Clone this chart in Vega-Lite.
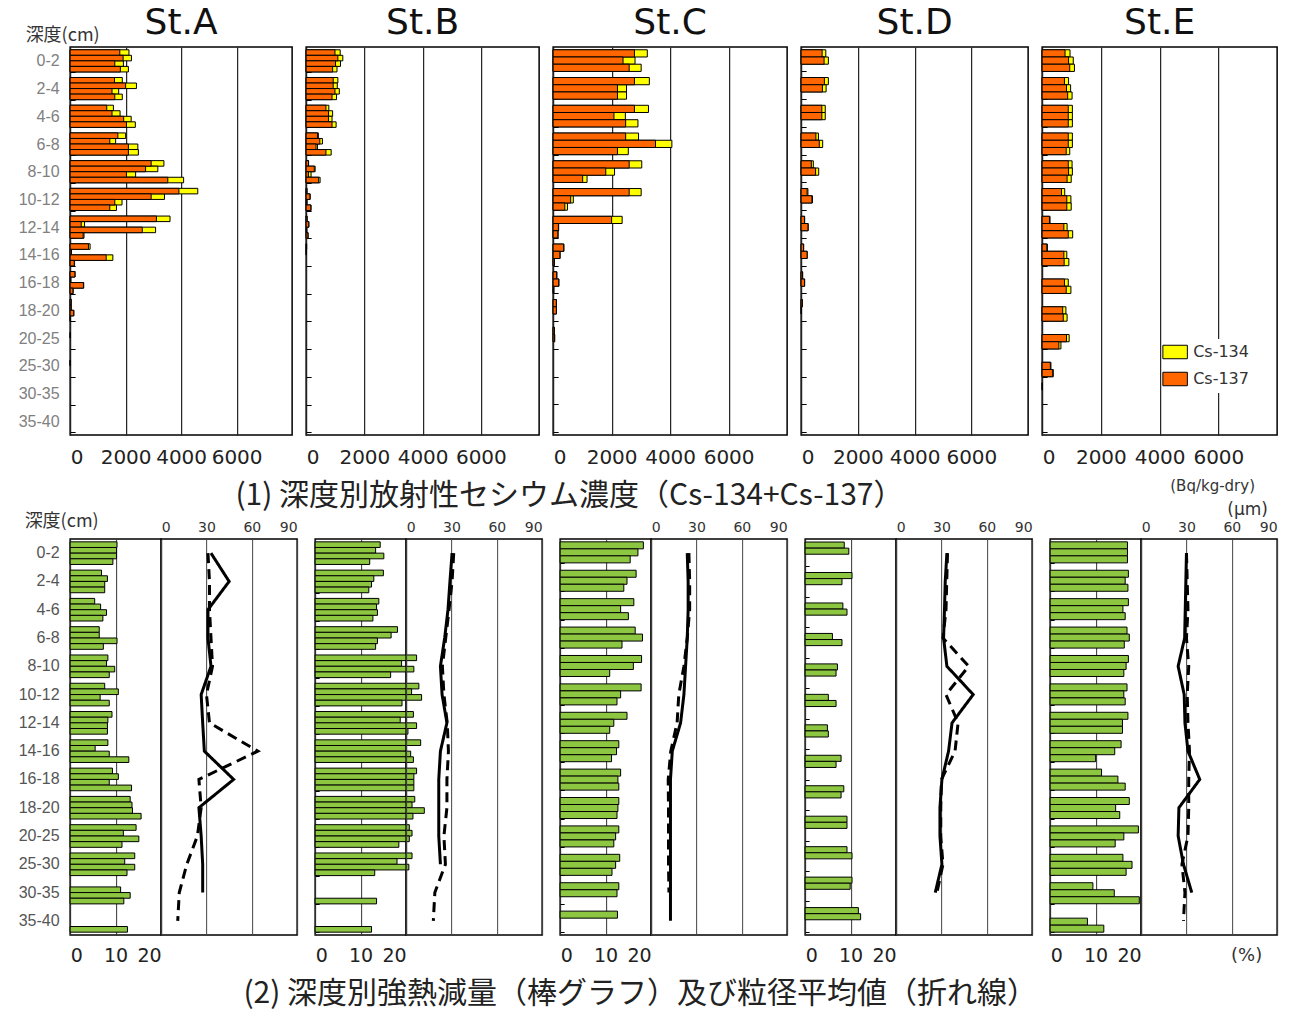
{
"$schema": "https://vega.github.io/schema/vega-lite/v6.json",
"padding": {"left": 17, "top": 4, "right": 5, "bottom": 0},
"background": "white",
"config": {"view": {"stroke": "#000", "strokeWidth": 1.5}, "axis": {"labelFont": "DejaVu Sans", "labelOverlap": false}},
"datasets": {
"cs": [
{"s":"A","d":"0-2","k":1,"c":1790,"t":2120},{"s":"A","d":"0-2","k":2,"c":1910,"t":2210},{"s":"A","d":"0-2","k":3,"c":1610,"t":1920},{"s":"A","d":"0-2","k":4,"c":1810,"t":2100},
{"s":"A","d":"2-4","k":1,"c":1600,"t":1880},{"s":"A","d":"2-4","k":2,"c":2000,"t":2390},{"s":"A","d":"2-4","k":3,"c":1510,"t":1750},{"s":"A","d":"2-4","k":4,"c":1610,"t":1880},
{"s":"A","d":"4-6","k":1,"c":1320,"t":1560},{"s":"A","d":"4-6","k":2,"c":1510,"t":1800},{"s":"A","d":"4-6","k":3,"c":1930,"t":2200},{"s":"A","d":"4-6","k":4,"c":2030,"t":2350},
{"s":"A","d":"6-8","k":1,"c":1720,"t":2000},{"s":"A","d":"6-8","k":2,"c":1430,"t":1640},{"s":"A","d":"6-8","k":3,"c":2100,"t":2440},{"s":"A","d":"6-8","k":4,"c":2100,"t":2460},
{"s":"A","d":"8-10","k":1,"c":2920,"t":3380},{"s":"A","d":"8-10","k":2,"c":2720,"t":3160},{"s":"A","d":"8-10","k":3,"c":2030,"t":2360},{"s":"A","d":"8-10","k":4,"c":3520,"t":4090},
{"s":"A","d":"10-12","k":1,"c":3920,"t":4600},{"s":"A","d":"10-12","k":2,"c":2920,"t":3400},{"s":"A","d":"10-12","k":3,"c":1610,"t":1870},{"s":"A","d":"10-12","k":4,"c":1430,"t":1670},
{"s":"A","d":"12-14","k":1,"c":3110,"t":3600},{"s":"A","d":"12-14","k":2,"c":400,"t":520},{"s":"A","d":"12-14","k":3,"c":2600,"t":3080},{"s":"A","d":"12-14","k":4,"c":470,"t":500},
{"s":"A","d":"14-16","k":1,"c":660,"t":720},{"s":"A","d":"14-16","k":2,"c":40,"t":50},{"s":"A","d":"14-16","k":3,"c":1300,"t":1540},{"s":"A","d":"14-16","k":4,"c":150,"t":160},
{"s":"A","d":"16-18","k":1,"c":170,"t":180},{"s":"A","d":"16-18","k":2,"c":20,"t":25},{"s":"A","d":"16-18","k":3,"c":480,"t":490},{"s":"A","d":"16-18","k":4,"c":100,"t":110},
{"s":"A","d":"18-20","k":1,"c":35,"t":40},{"s":"A","d":"18-20","k":2,"c":35,"t":40},{"s":"A","d":"18-20","k":3,"c":130,"t":135},{"s":"A","d":"18-20","k":4,"c":10,"t":12},
{"s":"A","d":"20-25","k":2,"c":10,"t":12},{"s":"A","d":"25-30","k":2,"c":8,"t":10},
{"s":"B","d":"0-2","k":1,"c":990,"t":1170},{"s":"B","d":"0-2","k":2,"c":1090,"t":1260},{"s":"B","d":"0-2","k":3,"c":1010,"t":1180},{"s":"B","d":"0-2","k":4,"c":910,"t":1060},
{"s":"B","d":"2-4","k":1,"c":930,"t":1090},{"s":"B","d":"2-4","k":2,"c":930,"t":1070},{"s":"B","d":"2-4","k":3,"c":990,"t":1140},{"s":"B","d":"2-4","k":4,"c":890,"t":1045},
{"s":"B","d":"4-6","k":1,"c":680,"t":780},{"s":"B","d":"4-6","k":2,"c":770,"t":910},{"s":"B","d":"4-6","k":3,"c":770,"t":890},{"s":"B","d":"4-6","k":4,"c":890,"t":1030},
{"s":"B","d":"6-8","k":1,"c":390,"t":420},{"s":"B","d":"6-8","k":2,"c":470,"t":560},{"s":"B","d":"6-8","k":3,"c":340,"t":390},{"s":"B","d":"6-8","k":4,"c":680,"t":860},
{"s":"B","d":"8-10","k":1,"c":80,"t":85},{"s":"B","d":"8-10","k":2,"c":280,"t":310},{"s":"B","d":"8-10","k":3,"c":80,"t":170},{"s":"B","d":"8-10","k":4,"c":430,"t":480},
{"s":"B","d":"10-12","k":1,"c":25,"t":30},{"s":"B","d":"10-12","k":2,"c":130,"t":140},{"s":"B","d":"10-12","k":3,"c":25,"t":30},{"s":"B","d":"10-12","k":4,"c":160,"t":170},
{"s":"B","d":"12-14","k":1,"c":30,"t":35},{"s":"B","d":"12-14","k":2,"c":90,"t":95},{"s":"B","d":"12-14","k":3,"c":20,"t":25},{"s":"B","d":"12-14","k":4,"c":60,"t":70},
{"s":"B","d":"14-16","k":1,"c":15,"t":18},{"s":"B","d":"14-16","k":2,"c":10,"t":12},
{"s":"C","d":"0-2","k":1,"c":2780,"t":3220},{"s":"C","d":"0-2","k":2,"c":2390,"t":2800},{"s":"C","d":"0-2","k":3,"c":2600,"t":3010},
{"s":"C","d":"2-4","k":1,"c":2780,"t":3290},{"s":"C","d":"2-4","k":2,"c":2200,"t":2510},{"s":"C","d":"2-4","k":3,"c":2200,"t":2510},
{"s":"C","d":"4-6","k":1,"c":2780,"t":3260},{"s":"C","d":"4-6","k":2,"c":2080,"t":2470},{"s":"C","d":"4-6","k":3,"c":2480,"t":2900},
{"s":"C","d":"6-8","k":1,"c":2480,"t":2920},{"s":"C","d":"6-8","k":2,"c":3500,"t":4060},{"s":"C","d":"6-8","k":3,"c":2200,"t":2570},
{"s":"C","d":"8-10","k":1,"c":2600,"t":3030},{"s":"C","d":"8-10","k":2,"c":1800,"t":2100},{"s":"C","d":"8-10","k":3,"c":1010,"t":1160},
{"s":"C","d":"10-12","k":1,"c":2600,"t":3010},{"s":"C","d":"10-12","k":2,"c":600,"t":690},{"s":"C","d":"10-12","k":3,"c":400,"t":490},
{"s":"C","d":"12-14","k":1,"c":2000,"t":2360},{"s":"C","d":"12-14","k":2,"c":180,"t":190},{"s":"C","d":"12-14","k":3,"c":160,"t":170},
{"s":"C","d":"14-16","k":1,"c":360,"t":370},{"s":"C","d":"14-16","k":2,"c":230,"t":240},{"s":"C","d":"14-16","k":3,"c":40,"t":45},
{"s":"C","d":"16-18","k":1,"c":120,"t":130},{"s":"C","d":"16-18","k":2,"c":190,"t":200},{"s":"C","d":"16-18","k":3,"c":20,"t":25},
{"s":"C","d":"18-20","k":1,"c":110,"t":115},{"s":"C","d":"18-20","k":2,"c":110,"t":115},
{"s":"C","d":"20-25","k":1,"c":40,"t":45},{"s":"C","d":"20-25","k":2,"c":50,"t":55},
{"s":"D","d":"0-2","k":1,"c":740,"t":870},{"s":"D","d":"0-2","k":2,"c":810,"t":960},
{"s":"D","d":"2-4","k":1,"c":820,"t":960},{"s":"D","d":"2-4","k":2,"c":750,"t":880},
{"s":"D","d":"4-6","k":1,"c":730,"t":850},{"s":"D","d":"4-6","k":2,"c":730,"t":850},
{"s":"D","d":"6-8","k":1,"c":520,"t":610},{"s":"D","d":"6-8","k":2,"c":640,"t":760},
{"s":"D","d":"8-10","k":1,"c":360,"t":430},{"s":"D","d":"8-10","k":2,"c":510,"t":620},
{"s":"D","d":"10-12","k":1,"c":210,"t":240},{"s":"D","d":"10-12","k":2,"c":380,"t":400},
{"s":"D","d":"12-14","k":1,"c":120,"t":125},{"s":"D","d":"12-14","k":2,"c":240,"t":250},
{"s":"D","d":"14-16","k":1,"c":85,"t":90},{"s":"D","d":"14-16","k":2,"c":210,"t":215},
{"s":"D","d":"16-18","k":1,"c":50,"t":55},{"s":"D","d":"16-18","k":2,"c":120,"t":125},
{"s":"D","d":"18-20","k":1,"c":40,"t":45},{"s":"D","d":"18-20","k":2,"c":10,"t":12},
{"s":"E","d":"0-2","k":1,"c":780,"t":950},{"s":"E","d":"0-2","k":2,"c":900,"t":1060},{"s":"E","d":"0-2","k":3,"c":940,"t":1100},
{"s":"E","d":"2-4","k":1,"c":760,"t":900},{"s":"E","d":"2-4","k":2,"c":830,"t":970},{"s":"E","d":"2-4","k":3,"c":870,"t":1020},
{"s":"E","d":"4-6","k":1,"c":890,"t":1030},{"s":"E","d":"4-6","k":2,"c":890,"t":1030},{"s":"E","d":"4-6","k":3,"c":890,"t":1030},
{"s":"E","d":"6-8","k":1,"c":890,"t":1030},{"s":"E","d":"6-8","k":2,"c":890,"t":1030},{"s":"E","d":"6-8","k":3,"c":820,"t":940},
{"s":"E","d":"8-10","k":1,"c":890,"t":1020},{"s":"E","d":"8-10","k":2,"c":900,"t":1030},{"s":"E","d":"8-10","k":3,"c":850,"t":990},
{"s":"E","d":"10-12","k":1,"c":660,"t":770},{"s":"E","d":"10-12","k":2,"c":840,"t":980},{"s":"E","d":"10-12","k":3,"c":840,"t":990},
{"s":"E","d":"12-14","k":1,"c":250,"t":270},{"s":"E","d":"12-14","k":2,"c":740,"t":850},{"s":"E","d":"12-14","k":3,"c":890,"t":1040},
{"s":"E","d":"14-16","k":1,"c":160,"t":180},{"s":"E","d":"14-16","k":2,"c":740,"t":840},{"s":"E","d":"14-16","k":3,"c":750,"t":910},
{"s":"E","d":"16-18","k":2,"c":760,"t":890},{"s":"E","d":"16-18","k":3,"c":820,"t":980},
{"s":"E","d":"18-20","k":2,"c":700,"t":810},{"s":"E","d":"18-20","k":3,"c":720,"t":850},
{"s":"E","d":"20-25","k":2,"c":830,"t":920},{"s":"E","d":"20-25","k":3,"c":570,"t":640},
{"s":"E","d":"25-30","k":2,"c":280,"t":300},{"s":"E","d":"25-30","k":3,"c":360,"t":380},
{"s":"E","d":"30-35","k":1,"c":10,"t":12}
],
"loi": [
{"s":"A","d":"0-2","k":1,"v":10.3},{"s":"A","d":"0-2","k":2,"v":10.2},{"s":"A","d":"0-2","k":3,"v":10.2},{"s":"A","d":"0-2","k":4,"v":9.4},
{"s":"A","d":"2-4","k":1,"v":6.9},{"s":"A","d":"2-4","k":2,"v":8.2},{"s":"A","d":"2-4","k":3,"v":7.6},{"s":"A","d":"2-4","k":4,"v":7.6},
{"s":"A","d":"4-6","k":1,"v":5.4},{"s":"A","d":"4-6","k":2,"v":6.7},{"s":"A","d":"4-6","k":3,"v":8.0},{"s":"A","d":"4-6","k":4,"v":7.2},
{"s":"A","d":"6-8","k":1,"v":6.4},{"s":"A","d":"6-8","k":2,"v":6.4},{"s":"A","d":"6-8","k":3,"v":10.3},{"s":"A","d":"6-8","k":4,"v":7.3},
{"s":"A","d":"8-10","k":1,"v":8.3},{"s":"A","d":"8-10","k":2,"v":8.0},{"s":"A","d":"8-10","k":3,"v":9.8},{"s":"A","d":"8-10","k":4,"v":8.6},
{"s":"A","d":"10-12","k":1,"v":7.6},{"s":"A","d":"10-12","k":2,"v":10.6},{"s":"A","d":"10-12","k":3,"v":6.6},{"s":"A","d":"10-12","k":4,"v":8.6},
{"s":"A","d":"12-14","k":1,"v":9.2},{"s":"A","d":"12-14","k":2,"v":8.3},{"s":"A","d":"12-14","k":3,"v":8.2},{"s":"A","d":"12-14","k":4,"v":8.2},
{"s":"A","d":"14-16","k":1,"v":8.3},{"s":"A","d":"14-16","k":2,"v":5.5},{"s":"A","d":"14-16","k":3,"v":8.6},{"s":"A","d":"14-16","k":4,"v":12.9},
{"s":"A","d":"16-18","k":1,"v":9.3},{"s":"A","d":"16-18","k":2,"v":10.6},{"s":"A","d":"16-18","k":3,"v":8.6},{"s":"A","d":"16-18","k":4,"v":13.5},
{"s":"A","d":"18-20","k":1,"v":13.2},{"s":"A","d":"18-20","k":2,"v":13.6},{"s":"A","d":"18-20","k":3,"v":13.7},{"s":"A","d":"18-20","k":4,"v":15.6},
{"s":"A","d":"20-25","k":1,"v":14.5},{"s":"A","d":"20-25","k":2,"v":11.7},{"s":"A","d":"20-25","k":3,"v":15.1},{"s":"A","d":"20-25","k":4,"v":11.4},
{"s":"A","d":"25-30","k":1,"v":14.2},{"s":"A","d":"25-30","k":2,"v":12.0},{"s":"A","d":"25-30","k":3,"v":14.2},{"s":"A","d":"25-30","k":4,"v":12.5},
{"s":"A","d":"30-35","k":2,"v":11.1},{"s":"A","d":"30-35","k":3,"v":13.2},{"s":"A","d":"30-35","k":4,"v":11.8},
{"s":"A","d":"35-40","k":4,"v":12.6},
{"s":"B","d":"0-2","k":1,"v":14.3},{"s":"B","d":"0-2","k":2,"v":13.3},{"s":"B","d":"0-2","k":3,"v":15.1},{"s":"B","d":"0-2","k":4,"v":12.0},
{"s":"B","d":"2-4","k":1,"v":15.0},{"s":"B","d":"2-4","k":2,"v":12.9},{"s":"B","d":"2-4","k":3,"v":12.4},{"s":"B","d":"2-4","k":4,"v":11.8},
{"s":"B","d":"4-6","k":1,"v":14.0},{"s":"B","d":"4-6","k":2,"v":13.5},{"s":"B","d":"4-6","k":3,"v":13.7},{"s":"B","d":"4-6","k":4,"v":12.7},
{"s":"B","d":"6-8","k":1,"v":18.1},{"s":"B","d":"6-8","k":2,"v":16.7},{"s":"B","d":"6-8","k":3,"v":13.7},{"s":"B","d":"6-8","k":4,"v":13.3},
{"s":"B","d":"8-10","k":1,"v":22.3},{"s":"B","d":"8-10","k":2,"v":19.0},{"s":"B","d":"8-10","k":3,"v":21.7},{"s":"B","d":"8-10","k":4,"v":16.6},
{"s":"B","d":"10-12","k":1,"v":22.8},{"s":"B","d":"10-12","k":2,"v":21.2},{"s":"B","d":"10-12","k":3,"v":23.4},{"s":"B","d":"10-12","k":4,"v":19.1},
{"s":"B","d":"12-14","k":1,"v":21.6},{"s":"B","d":"12-14","k":2,"v":18.7},{"s":"B","d":"12-14","k":3,"v":22.3},{"s":"B","d":"12-14","k":4,"v":20.4},
{"s":"B","d":"14-16","k":1,"v":23.2},{"s":"B","d":"14-16","k":2,"v":20.0},{"s":"B","d":"14-16","k":3,"v":21.0},{"s":"B","d":"14-16","k":4,"v":21.6},
{"s":"B","d":"16-18","k":1,"v":22.3},{"s":"B","d":"16-18","k":2,"v":21.7},{"s":"B","d":"16-18","k":3,"v":21.7},{"s":"B","d":"16-18","k":4,"v":21.7},
{"s":"B","d":"18-20","k":1,"v":21.9},{"s":"B","d":"18-20","k":2,"v":21.3},{"s":"B","d":"18-20","k":3,"v":24.0},{"s":"B","d":"18-20","k":4,"v":21.5},
{"s":"B","d":"20-25","k":1,"v":20.7},{"s":"B","d":"20-25","k":2,"v":21.3},{"s":"B","d":"20-25","k":3,"v":20.7},{"s":"B","d":"20-25","k":4,"v":18.4},
{"s":"B","d":"25-30","k":1,"v":21.3},{"s":"B","d":"25-30","k":2,"v":18.0},{"s":"B","d":"25-30","k":3,"v":20.6},{"s":"B","d":"25-30","k":4,"v":13.1},
{"s":"B","d":"30-35","k":4,"v":13.5},{"s":"B","d":"35-40","k":4,"v":12.4},
{"s":"C","d":"0-2","k":1,"v":18.3},{"s":"C","d":"0-2","k":2,"v":17.1},{"s":"C","d":"0-2","k":3,"v":15.4},
{"s":"C","d":"2-4","k":1,"v":16.7},{"s":"C","d":"2-4","k":2,"v":14.7},{"s":"C","d":"2-4","k":3,"v":14.0},
{"s":"C","d":"4-6","k":1,"v":16.2},{"s":"C","d":"4-6","k":2,"v":13.3},{"s":"C","d":"4-6","k":3,"v":15.0},
{"s":"C","d":"6-8","k":1,"v":16.5},{"s":"C","d":"6-8","k":2,"v":18.1},{"s":"C","d":"6-8","k":3,"v":13.6},
{"s":"C","d":"8-10","k":1,"v":17.9},{"s":"C","d":"8-10","k":2,"v":16.1},{"s":"C","d":"8-10","k":3,"v":10.9},
{"s":"C","d":"10-12","k":1,"v":17.8},{"s":"C","d":"10-12","k":2,"v":13.3},{"s":"C","d":"10-12","k":3,"v":12.5},
{"s":"C","d":"12-14","k":1,"v":14.7},{"s":"C","d":"12-14","k":2,"v":11.8},{"s":"C","d":"12-14","k":3,"v":10.9},
{"s":"C","d":"14-16","k":1,"v":12.9},{"s":"C","d":"14-16","k":2,"v":12.4},{"s":"C","d":"14-16","k":3,"v":11.3},
{"s":"C","d":"16-18","k":1,"v":13.3},{"s":"C","d":"16-18","k":2,"v":12.7},{"s":"C","d":"16-18","k":3,"v":12.9},
{"s":"C","d":"18-20","k":1,"v":12.9},{"s":"C","d":"18-20","k":2,"v":12.7},{"s":"C","d":"18-20","k":3,"v":12.5},
{"s":"C","d":"20-25","k":1,"v":12.9},{"s":"C","d":"20-25","k":2,"v":12.2},{"s":"C","d":"20-25","k":3,"v":11.8},
{"s":"C","d":"25-30","k":1,"v":13.1},{"s":"C","d":"25-30","k":2,"v":12.2},{"s":"C","d":"25-30","k":3,"v":11.4},
{"s":"C","d":"30-35","k":1,"v":12.9},{"s":"C","d":"30-35","k":2,"v":12.5},
{"s":"C","d":"35-40","k":1,"v":12.6},
{"s":"D","d":"0-2","k":1,"v":8.6},{"s":"D","d":"0-2","k":2,"v":9.6},
{"s":"D","d":"2-4","k":1,"v":10.3},{"s":"D","d":"2-4","k":2,"v":8.1},
{"s":"D","d":"4-6","k":1,"v":8.3},{"s":"D","d":"4-6","k":2,"v":9.2},
{"s":"D","d":"6-8","k":1,"v":6.0},{"s":"D","d":"6-8","k":2,"v":8.1},
{"s":"D","d":"8-10","k":1,"v":7.1},{"s":"D","d":"8-10","k":2,"v":6.8},
{"s":"D","d":"10-12","k":1,"v":5.1},{"s":"D","d":"10-12","k":2,"v":6.8},
{"s":"D","d":"12-14","k":1,"v":4.9},{"s":"D","d":"12-14","k":2,"v":5.1},
{"s":"D","d":"14-16","k":1,"v":7.9},{"s":"D","d":"14-16","k":2,"v":6.8},
{"s":"D","d":"16-18","k":1,"v":8.5},{"s":"D","d":"16-18","k":2,"v":7.9},
{"s":"D","d":"18-20","k":1,"v":9.2},{"s":"D","d":"18-20","k":2,"v":9.2},
{"s":"D","d":"20-25","k":1,"v":9.2},{"s":"D","d":"20-25","k":2,"v":10.3},
{"s":"D","d":"25-30","k":1,"v":10.3},{"s":"D","d":"25-30","k":2,"v":9.9},
{"s":"D","d":"30-35","k":1,"v":11.7},{"s":"D","d":"30-35","k":2,"v":12.2},
{"s":"E","d":"0-2","k":1,"v":17.0},{"s":"E","d":"0-2","k":2,"v":17.0},{"s":"E","d":"0-2","k":3,"v":17.0},
{"s":"E","d":"2-4","k":1,"v":17.2},{"s":"E","d":"2-4","k":2,"v":16.5},{"s":"E","d":"2-4","k":3,"v":17.1},
{"s":"E","d":"4-6","k":1,"v":17.2},{"s":"E","d":"4-6","k":2,"v":16.0},{"s":"E","d":"4-6","k":3,"v":16.5},
{"s":"E","d":"6-8","k":1,"v":16.9},{"s":"E","d":"6-8","k":2,"v":17.4},{"s":"E","d":"6-8","k":3,"v":16.3},
{"s":"E","d":"8-10","k":1,"v":17.2},{"s":"E","d":"8-10","k":2,"v":16.7},{"s":"E","d":"8-10","k":3,"v":16.2},
{"s":"E","d":"10-12","k":1,"v":16.9},{"s":"E","d":"10-12","k":2,"v":16.2},{"s":"E","d":"10-12","k":3,"v":16.5},
{"s":"E","d":"12-14","k":1,"v":17.1},{"s":"E","d":"12-14","k":2,"v":15.9},{"s":"E","d":"12-14","k":3,"v":15.9},
{"s":"E","d":"14-16","k":1,"v":15.6},{"s":"E","d":"14-16","k":2,"v":14.2},{"s":"E","d":"14-16","k":3,"v":10.0},
{"s":"E","d":"16-18","k":1,"v":11.3},{"s":"E","d":"16-18","k":2,"v":14.9},{"s":"E","d":"16-18","k":3,"v":16.5},
{"s":"E","d":"18-20","k":1,"v":17.4},{"s":"E","d":"18-20","k":2,"v":14.4},{"s":"E","d":"18-20","k":3,"v":15.3},
{"s":"E","d":"20-25","k":1,"v":19.4},{"s":"E","d":"20-25","k":2,"v":16.2},{"s":"E","d":"20-25","k":3,"v":14.3},
{"s":"E","d":"25-30","k":1,"v":16.0},{"s":"E","d":"25-30","k":2,"v":18.0},{"s":"E","d":"25-30","k":3,"v":16.7},
{"s":"E","d":"30-35","k":1,"v":9.4},{"s":"E","d":"30-35","k":2,"v":14.1},{"s":"E","d":"30-35","k":3,"v":19.6},
{"s":"E","d":"35-40","k":2,"v":8.2},{"s":"E","d":"35-40","k":3,"v":11.8}
],
"gs": [
{"s":"A","t":"s","d":"0-2","v":33},{"s":"A","t":"s","d":"2-4","v":45},{"s":"A","t":"s","d":"4-6","v":31},{"s":"A","t":"s","d":"6-8","v":31},{"s":"A","t":"s","d":"8-10","v":33},{"s":"A","t":"s","d":"10-12","v":26.5},{"s":"A","t":"s","d":"12-14","v":27.5},{"s":"A","t":"s","d":"14-16","v":28.6},{"s":"A","t":"s","d":"16-18","v":48},{"s":"A","t":"s","d":"18-20","v":25},{"s":"A","t":"s","d":"20-25","v":26.5},{"s":"A","t":"s","d":"25-30","v":27.5},{"s":"A","t":"s","d":"30-35","v":27.5},
{"s":"A","t":"d","d":"0-2","v":31},{"s":"A","t":"d","d":"2-4","v":32},{"s":"A","t":"d","d":"4-6","v":32},{"s":"A","t":"d","d":"6-8","v":33},{"s":"A","t":"d","d":"8-10","v":34},{"s":"A","t":"d","d":"10-12","v":30},{"s":"A","t":"d","d":"12-14","v":32},{"s":"A","t":"d","d":"14-16","v":64},{"s":"A","t":"d","d":"16-18","v":25},{"s":"A","t":"d","d":"18-20","v":26.5},{"s":"A","t":"d","d":"20-25","v":24},{"s":"A","t":"d","d":"25-30","v":17},{"s":"A","t":"d","d":"30-35","v":12},{"s":"A","t":"d","d":"35-40","v":11},
{"s":"B","t":"s","d":"0-2","v":30.4},{"s":"B","t":"s","d":"2-4","v":29},{"s":"B","t":"s","d":"4-6","v":27.7},{"s":"B","t":"s","d":"6-8","v":25.5},{"s":"B","t":"s","d":"8-10","v":22.7},{"s":"B","t":"s","d":"10-12","v":23.8},{"s":"B","t":"s","d":"12-14","v":27},{"s":"B","t":"s","d":"14-16","v":22.7},{"s":"B","t":"s","d":"16-18","v":21.6},{"s":"B","t":"s","d":"18-20","v":21.6},{"s":"B","t":"s","d":"20-25","v":21.6},{"s":"B","t":"s","d":"25-30","v":22.7},
{"s":"B","t":"d","d":"0-2","v":31.5},{"s":"B","t":"d","d":"2-4","v":30.4},{"s":"B","t":"d","d":"4-6","v":28.4},{"s":"B","t":"d","d":"6-8","v":26.2},{"s":"B","t":"d","d":"8-10","v":24},{"s":"B","t":"d","d":"10-12","v":25},{"s":"B","t":"d","d":"12-14","v":27.2},{"s":"B","t":"d","d":"14-16","v":28},{"s":"B","t":"d","d":"16-18","v":27},{"s":"B","t":"d","d":"18-20","v":27},{"s":"B","t":"d","d":"20-25","v":25},{"s":"B","t":"d","d":"25-30","v":26},{"s":"B","t":"d","d":"30-35","v":19},{"s":"B","t":"d","d":"35-40","v":18},
{"s":"C","t":"s","d":"0-2","v":23.9},{"s":"C","t":"s","d":"2-4","v":24.5},{"s":"C","t":"s","d":"4-6","v":24.5},{"s":"C","t":"s","d":"6-8","v":23.9},{"s":"C","t":"s","d":"8-10","v":22.8},{"s":"C","t":"s","d":"10-12","v":21.7},{"s":"C","t":"s","d":"12-14","v":19.5},{"s":"C","t":"s","d":"14-16","v":14},{"s":"C","t":"s","d":"16-18","v":12.8},{"s":"C","t":"s","d":"18-20","v":12.8},{"s":"C","t":"s","d":"20-25","v":12.8},{"s":"C","t":"s","d":"25-30","v":12.8},{"s":"C","t":"s","d":"30-35","v":12.8},{"s":"C","t":"s","d":"35-40","v":12.8},
{"s":"C","t":"d","d":"0-2","v":25},{"s":"C","t":"d","d":"2-4","v":25.5},{"s":"C","t":"d","d":"4-6","v":25.5},{"s":"C","t":"d","d":"6-8","v":23.9},{"s":"C","t":"d","d":"8-10","v":21.7},{"s":"C","t":"d","d":"10-12","v":18.3},{"s":"C","t":"d","d":"12-14","v":17.2},{"s":"C","t":"d","d":"14-16","v":13},{"s":"C","t":"d","d":"16-18","v":11.3},{"s":"C","t":"d","d":"18-20","v":11.5},{"s":"C","t":"d","d":"20-25","v":11.5},{"s":"C","t":"d","d":"25-30","v":11.5},{"s":"C","t":"d","d":"30-35","v":11.8},
{"s":"D","t":"s","d":"0-2","v":33.6},{"s":"D","t":"s","d":"2-4","v":32.5},{"s":"D","t":"s","d":"4-6","v":32},{"s":"D","t":"s","d":"6-8","v":31.4},{"s":"D","t":"s","d":"8-10","v":33.6},{"s":"D","t":"s","d":"10-12","v":51},{"s":"D","t":"s","d":"12-14","v":37},{"s":"D","t":"s","d":"14-16","v":34.7},{"s":"D","t":"s","d":"16-18","v":30.3},{"s":"D","t":"s","d":"18-20","v":29},{"s":"D","t":"s","d":"20-25","v":29},{"s":"D","t":"s","d":"25-30","v":30.3},{"s":"D","t":"s","d":"30-35","v":25.9},
{"s":"D","t":"d","d":"0-2","v":34},{"s":"D","t":"d","d":"2-4","v":33.5},{"s":"D","t":"d","d":"4-6","v":33},{"s":"D","t":"d","d":"6-8","v":31},{"s":"D","t":"d","d":"8-10","v":48},{"s":"D","t":"d","d":"10-12","v":33},{"s":"D","t":"d","d":"12-14","v":41},{"s":"D","t":"d","d":"14-16","v":39},{"s":"D","t":"d","d":"16-18","v":30},{"s":"D","t":"d","d":"18-20","v":29.5},{"s":"D","t":"d","d":"20-25","v":29.5},{"s":"D","t":"d","d":"25-30","v":31},{"s":"D","t":"d","d":"30-35","v":27},
{"s":"E","t":"s","d":"0-2","v":30},{"s":"E","t":"s","d":"2-4","v":29.6},{"s":"E","t":"s","d":"4-6","v":29.2},{"s":"E","t":"s","d":"6-8","v":28.8},{"s":"E","t":"s","d":"8-10","v":24.5},{"s":"E","t":"s","d":"10-12","v":28.5},{"s":"E","t":"s","d":"12-14","v":29},{"s":"E","t":"s","d":"14-16","v":31},{"s":"E","t":"s","d":"16-18","v":38.8},{"s":"E","t":"s","d":"18-20","v":25},{"s":"E","t":"s","d":"20-25","v":24.5},{"s":"E","t":"s","d":"25-30","v":28},{"s":"E","t":"s","d":"30-35","v":33.5},
{"s":"E","t":"d","d":"0-2","v":30},{"s":"E","t":"d","d":"2-4","v":30.5},{"s":"E","t":"d","d":"4-6","v":31},{"s":"E","t":"d","d":"6-8","v":30},{"s":"E","t":"d","d":"8-10","v":31.5},{"s":"E","t":"d","d":"10-12","v":30.5},{"s":"E","t":"d","d":"12-14","v":31},{"s":"E","t":"d","d":"14-16","v":32},{"s":"E","t":"d","d":"16-18","v":31.5},{"s":"E","t":"d","d":"18-20","v":31.5},{"s":"E","t":"d","d":"20-25","v":31},{"s":"E","t":"d","d":"25-30","v":27},{"s":"E","t":"d","d":"30-35","v":29},{"s":"E","t":"d","d":"35-40","v":28}
]
},
"vconcat": [
{
"hconcat": [
{"width": 222, "height": 388, "data": {"name": "cs"}, "transform": [{"filter": "datum.s=='A'"}],
 "title": {"text": "St.A", "fontSize": 36, "font": "DejaVu Sans", "fontWeight": "normal", "color": "#111", "offset": -16, "frame": "group"},
 "encoding": {
  "y": {"field": "d", "type": "nominal", "scale": {"domain": ["0-2","2-4","4-6","6-8","8-10","10-12","12-14","14-16","16-18","18-20","20-25","25-30","30-35","35-40"], "paddingInner": 0.2, "paddingOuter": 0.1},
   "axis": {"title": "深度(cm)", "titleAngle": 0, "titleX": -8, "titleY": -12, "titleAlign": "center", "titleBaseline": "middle", "titleFont": "Noto Sans CJK JP", "titleFontSize": 18, "titleFontWeight": "normal", "titleColor": "#333", "labelFont": "Liberation Sans", "labelFontSize": 16, "labelColor": "#808080", "labelPadding": 16, "tickBand": "extent", "tickSize": -5, "tickColor": "#000", "domain": false}},
  "yOffset": {"field": "k", "type": "nominal", "scale": {"domain": [1,2,3,4]}}
 },
 "layer": [
  {"mark": {"type": "bar", "stroke": "#000", "strokeWidth": 1}, "encoding": {"x": {"field": "t", "type": "quantitative", "scale": {"domain": [0,8000], "nice": false}, "axis": {"values": [0,2000,4000,6000], "format": "d", "title": null, "grid": true, "gridColor": "#222", "gridWidth": 1.2, "ticks": false, "domain": false, "labelFontSize": 20, "labelColor": "#222", "labelPadding": 12}}, "color": {"datum": "Cs-134", "scale": {"domain": ["Cs-134","Cs-137"], "range": ["#FFFF00","#FF6600"]}, "legend": null}}},
  {"mark": {"type": "bar", "stroke": "#000", "strokeWidth": 1}, "encoding": {"x": {"field": "c", "type": "quantitative"}, "color": {"datum": "Cs-137", "legend": null}}}
 ]
},
{"width": 233, "height": 388, "data": {"name": "cs"}, "transform": [{"filter": "datum.s=='B'"}],
 "title": {"text": "St.B", "fontSize": 36, "font": "DejaVu Sans", "fontWeight": "normal", "color": "#111", "offset": 5, "frame": "group"},
 "encoding": {
  "y": {"field": "d", "type": "nominal", "scale": {"domain": ["0-2","2-4","4-6","6-8","8-10","10-12","12-14","14-16","16-18","18-20","20-25","25-30","30-35","35-40"], "paddingInner": 0.2, "paddingOuter": 0.1},
   "axis": {"title": null, "labels": false, "tickBand": "extent", "tickSize": -5, "tickColor": "#000", "domain": false}},
  "yOffset": {"field": "k", "type": "nominal", "scale": {"domain": [1,2,3,4]}}
 },
 "layer": [
  {"mark": {"type": "bar", "stroke": "#000", "strokeWidth": 1}, "encoding": {"x": {"field": "t", "type": "quantitative", "scale": {"domain": [0,8000], "nice": false}, "axis": {"values": [0,2000,4000,6000], "format": "d", "title": null, "grid": true, "gridColor": "#222", "gridWidth": 1.2, "ticks": false, "domain": false, "labelFontSize": 20, "labelColor": "#222", "labelPadding": 12}}, "color": {"datum": "Cs-134", "scale": {"domain": ["Cs-134","Cs-137"], "range": ["#FFFF00","#FF6600"]}, "legend": null}}},
  {"mark": {"type": "bar", "stroke": "#000", "strokeWidth": 1}, "encoding": {"x": {"field": "c", "type": "quantitative"}, "color": {"datum": "Cs-137", "legend": null}}}
 ]
},
{"width": 234, "height": 388, "data": {"name": "cs"}, "transform": [{"filter": "datum.s=='C'"}],
 "title": {"text": "St.C", "fontSize": 36, "font": "DejaVu Sans", "fontWeight": "normal", "color": "#111", "offset": 5, "frame": "group"},
 "encoding": {
  "y": {"field": "d", "type": "nominal", "scale": {"domain": ["0-2","2-4","4-6","6-8","8-10","10-12","12-14","14-16","16-18","18-20","20-25","25-30","30-35","35-40"], "paddingInner": 0.22, "paddingOuter": 0.1},
   "axis": {"title": null, "labels": false, "tickBand": "extent", "tickSize": -5, "tickColor": "#000", "domain": false}},
  "yOffset": {"field": "k", "type": "nominal", "scale": {"domain": [1,2,3]}}
 },
 "layer": [
  {"mark": {"type": "bar", "stroke": "#000", "strokeWidth": 1}, "encoding": {"x": {"field": "t", "type": "quantitative", "scale": {"domain": [0,8000], "nice": false}, "axis": {"values": [0,2000,4000,6000], "format": "d", "title": null, "grid": true, "gridColor": "#222", "gridWidth": 1.2, "ticks": false, "domain": false, "labelFontSize": 20, "labelColor": "#222", "labelPadding": 12}}, "color": {"datum": "Cs-134", "scale": {"domain": ["Cs-134","Cs-137"], "range": ["#FFFF00","#FF6600"]}, "legend": null}}},
  {"mark": {"type": "bar", "stroke": "#000", "strokeWidth": 1}, "encoding": {"x": {"field": "c", "type": "quantitative"}, "color": {"datum": "Cs-137", "legend": null}}}
 ]
},
{"width": 227, "height": 388, "data": {"name": "cs"}, "transform": [{"filter": "datum.s=='D'"}],
 "title": {"text": "St.D", "fontSize": 36, "font": "DejaVu Sans", "fontWeight": "normal", "color": "#111", "offset": 5, "frame": "group"},
 "encoding": {
  "y": {"field": "d", "type": "nominal", "scale": {"domain": ["0-2","2-4","4-6","6-8","8-10","10-12","12-14","14-16","16-18","18-20","20-25","25-30","30-35","35-40"], "paddingInner": 0.22, "paddingOuter": 0.1},
   "axis": {"title": null, "labels": false, "tickBand": "extent", "tickSize": -5, "tickColor": "#000", "domain": false}},
  "yOffset": {"field": "k", "type": "nominal", "scale": {"domain": [1,2,3]}}
 },
 "layer": [
  {"mark": {"type": "bar", "stroke": "#000", "strokeWidth": 1}, "encoding": {"x": {"field": "t", "type": "quantitative", "scale": {"domain": [0,8000], "nice": false}, "axis": {"values": [0,2000,4000,6000], "format": "d", "title": null, "grid": true, "gridColor": "#222", "gridWidth": 1.2, "ticks": false, "domain": false, "labelFontSize": 20, "labelColor": "#222", "labelPadding": 12}}, "color": {"datum": "Cs-134", "scale": {"domain": ["Cs-134","Cs-137"], "range": ["#FFFF00","#FF6600"]}, "legend": null}}},
  {"mark": {"type": "bar", "stroke": "#000", "strokeWidth": 1}, "encoding": {"x": {"field": "c", "type": "quantitative"}, "color": {"datum": "Cs-137", "legend": null}}}
 ]
},
{"width": 235, "height": 388, "data": {"name": "cs"}, "transform": [{"filter": "datum.s=='E'"}],
 "title": {"text": "St.E", "fontSize": 36, "font": "DejaVu Sans", "fontWeight": "normal", "color": "#111", "offset": 5, "frame": "group"},
 "encoding": {
  "y": {"field": "d", "type": "nominal", "scale": {"domain": ["0-2","2-4","4-6","6-8","8-10","10-12","12-14","14-16","16-18","18-20","20-25","25-30","30-35","35-40"], "paddingInner": 0.22, "paddingOuter": 0.1},
   "axis": {"title": null, "labels": false, "tickBand": "extent", "tickSize": -5, "tickColor": "#000", "domain": false}},
  "yOffset": {"field": "k", "type": "nominal", "scale": {"domain": [1,2,3]}}
 },
 "layer": [
  {"mark": {"type": "bar", "stroke": "#000", "strokeWidth": 1}, "encoding": {"x": {"field": "t", "type": "quantitative", "scale": {"domain": [0,8000], "nice": false}, "axis": {"values": [0,2000,4000,6000], "format": "d", "title": "(Bq/kg-dry)", "titleX": 170, "titleY": 50, "titleAlign": "center", "titleBaseline": "middle", "titleFont": "DejaVu Sans", "titleFontSize": 15, "titleFontWeight": "normal", "titleColor": "#333", "grid": true, "gridColor": "#222", "gridWidth": 1.2, "ticks": false, "domain": false, "labelFontSize": 20, "labelColor": "#222", "labelPadding": 12}},
   "color": {"datum": "Cs-134", "scale": {"domain": ["Cs-134","Cs-137"], "range": ["#FFFF00","#FF6600"]},
    "legend": {"orient": "none", "legendX": 120, "legendY": 292, "title": null, "fillColor": "white", "padding": 5, "symbolType": "M-2,-1.1H2V1.1H-2Z", "symbolSize": 150, "symbolStrokeColor": "#000", "symbolStrokeWidth": 1, "symbolOpacity": 1, "labelFont": "DejaVu Sans", "labelFontSize": 16, "labelColor": "#333", "rowPadding": 9, "labelOffset": 10}}}},
  {"mark": {"type": "bar", "stroke": "#000", "strokeWidth": 1}, "encoding": {"x": {"field": "c", "type": "quantitative"}, "color": {"datum": "Cs-137"}}}
 ]
}
],
"spacing": 11,
"title": {"text": "(1)  深度別放射性セシウム濃度（Cs-134+Cs-137）", "orient": "bottom", "anchor": "start", "font": "Noto Sans CJK JP", "fontSize": 30, "fontWeight": "normal", "color": "#222", "offset": -13, "dx": 218},
"resolve": {"scale": {"color": "independent", "yOffset": "independent"}, "legend": {"color": "independent"}}
},
{
"hconcat": [
{"hconcat": [
 {"width": 91, "height": 396, "data": {"name": "loi"}, "transform": [{"filter": "datum.s=='A'"}],
  "mark": {"type": "bar", "fill": "#8DC641", "stroke": "#000", "strokeWidth": 1},
  "encoding": {
   "x": {"field": "v", "type": "quantitative", "scale": {"domain": [0,20], "nice": false}, "axis": {"values": [0,10,20], "title": null, "grid": true, "gridColor": "#333", "ticks": false, "domain": false, "labelFontSize": 19, "labelColor": "#222", "labelPadding": 11}},
   "y": {"field": "d", "type": "nominal", "scale": {"domain": ["0-2","2-4","4-6","6-8","8-10","10-12","12-14","14-16","16-18","18-20","20-25","25-30","30-35","35-40"], "paddingInner": 0.2, "paddingOuter": 0.1},
    "axis": {"title": "深度(cm)", "titleAngle": 0, "titleX": -9, "titleY": -18, "titleAlign": "center", "titleBaseline": "middle", "titleFont": "Noto Sans CJK JP", "titleFontSize": 18, "titleFontWeight": "normal", "titleColor": "#333", "labelFont": "Liberation Sans", "labelFontSize": 16, "labelColor": "#555", "labelPadding": 11, "ticks": false, "domain": false}},
   "yOffset": {"field": "k", "type": "nominal", "scale": {"domain": [1,2,3,4]}}
  }},
 {"width": 136, "height": 396, "data": {"name": "gs"}, "transform": [{"filter": "datum.s=='A'"}],
  "mark": {"type": "line", "color": "#000", "strokeWidth": 3},
  "encoding": {
   "x": {"field": "v", "type": "quantitative", "scale": {"domain": [0,90], "nice": false}, "axis": {"orient": "top", "values": [0,30,60,90], "title": null, "grid": true, "gridColor": "#444", "ticks": false, "domain": false, "labelFontSize": 14, "labelColor": "#333", "labelPadding": 5}},
   "y": {"field": "d", "type": "nominal", "scale": {"domain": ["0-2","2-4","4-6","6-8","8-10","10-12","12-14","14-16","16-18","18-20","20-25","25-30","30-35","35-40"], "paddingInner": 0.2, "paddingOuter": 0.1}, "axis": null},
   "strokeDash": {"field": "t", "type": "nominal", "scale": {"domain": ["s","d"], "range": [[1,0],[10,6]]}, "legend": null},
   "order": {"value": null}
  }}
 ], "spacing": 0, "bounds": "flush", "resolve": {"scale": {"yOffset": "independent"}}},
{"hconcat": [
 {"width": 91, "height": 396, "data": {"name": "loi"}, "transform": [{"filter": "datum.s=='B'"}],
  "mark": {"type": "bar", "fill": "#8DC641", "stroke": "#000", "strokeWidth": 1},
  "encoding": {
   "x": {"field": "v", "type": "quantitative", "scale": {"domain": [0,20], "nice": false}, "axis": {"values": [0,10,20], "title": null, "grid": true, "gridColor": "#333", "ticks": false, "domain": false, "labelFontSize": 19, "labelColor": "#222", "labelPadding": 11}},
   "y": {"field": "d", "type": "nominal", "scale": {"domain": ["0-2","2-4","4-6","6-8","8-10","10-12","12-14","14-16","16-18","18-20","20-25","25-30","30-35","35-40"], "paddingInner": 0.2, "paddingOuter": 0.1}, "axis": {"title": null, "labels": false, "tickBand": "extent", "tickSize": -4, "tickColor": "#000", "domain": false}},
   "yOffset": {"field": "k", "type": "nominal", "scale": {"domain": [1,2,3,4]}}
  }},
 {"width": 136, "height": 396, "data": {"name": "gs"}, "transform": [{"filter": "datum.s=='B'"}],
  "mark": {"type": "line", "color": "#000", "strokeWidth": 3},
  "encoding": {
   "x": {"field": "v", "type": "quantitative", "scale": {"domain": [0,90], "nice": false}, "axis": {"orient": "top", "values": [0,30,60,90], "title": null, "grid": true, "gridColor": "#444", "ticks": false, "domain": false, "labelFontSize": 14, "labelColor": "#333", "labelPadding": 5}},
   "y": {"field": "d", "type": "nominal", "scale": {"domain": ["0-2","2-4","4-6","6-8","8-10","10-12","12-14","14-16","16-18","18-20","20-25","25-30","30-35","35-40"], "paddingInner": 0.2, "paddingOuter": 0.1}, "axis": null},
   "strokeDash": {"field": "t", "type": "nominal", "scale": {"domain": ["s","d"], "range": [[1,0],[10,6]]}, "legend": null},
   "order": {"value": null}
  }}
 ], "spacing": 0, "bounds": "flush", "resolve": {"scale": {"yOffset": "independent"}}},
{"hconcat": [
 {"width": 91, "height": 396, "data": {"name": "loi"}, "transform": [{"filter": "datum.s=='C'"}],
  "mark": {"type": "bar", "fill": "#8DC641", "stroke": "#000", "strokeWidth": 1},
  "encoding": {
   "x": {"field": "v", "type": "quantitative", "scale": {"domain": [0,20], "nice": false}, "axis": {"values": [0,10,20], "title": null, "grid": true, "gridColor": "#333", "ticks": false, "domain": false, "labelFontSize": 19, "labelColor": "#222", "labelPadding": 11}},
   "y": {"field": "d", "type": "nominal", "scale": {"domain": ["0-2","2-4","4-6","6-8","8-10","10-12","12-14","14-16","16-18","18-20","20-25","25-30","30-35","35-40"], "paddingInner": 0.26, "paddingOuter": 0.1}, "axis": {"title": null, "labels": false, "tickBand": "extent", "tickSize": -4, "tickColor": "#000", "domain": false}},
   "yOffset": {"field": "k", "type": "nominal", "scale": {"domain": [1,2,3]}}
  }},
 {"width": 136, "height": 396, "data": {"name": "gs"}, "transform": [{"filter": "datum.s=='C'"}],
  "mark": {"type": "line", "color": "#000", "strokeWidth": 3},
  "encoding": {
   "x": {"field": "v", "type": "quantitative", "scale": {"domain": [0,90], "nice": false}, "axis": {"orient": "top", "values": [0,30,60,90], "title": null, "grid": true, "gridColor": "#444", "ticks": false, "domain": false, "labelFontSize": 14, "labelColor": "#333", "labelPadding": 5}},
   "y": {"field": "d", "type": "nominal", "scale": {"domain": ["0-2","2-4","4-6","6-8","8-10","10-12","12-14","14-16","16-18","18-20","20-25","25-30","30-35","35-40"], "paddingInner": 0.2, "paddingOuter": 0.1}, "axis": null},
   "strokeDash": {"field": "t", "type": "nominal", "scale": {"domain": ["s","d"], "range": [[1,0],[10,6]]}, "legend": null},
   "order": {"value": null}
  }}
 ], "spacing": 0, "bounds": "flush", "resolve": {"scale": {"yOffset": "independent"}}},
{"hconcat": [
 {"width": 91, "height": 396, "data": {"name": "loi"}, "transform": [{"filter": "datum.s=='D'"}],
  "mark": {"type": "bar", "fill": "#8DC641", "stroke": "#000", "strokeWidth": 1},
  "encoding": {
   "x": {"field": "v", "type": "quantitative", "scale": {"domain": [0,20], "nice": false}, "axis": {"values": [0,10,20], "title": null, "grid": true, "gridColor": "#333", "ticks": false, "domain": false, "labelFontSize": 19, "labelColor": "#222", "labelPadding": 11}},
   "y": {"field": "d", "type": "nominal", "scale": {"domain": ["0-2","2-4","4-6","6-8","8-10","10-12","12-14","14-16","16-18","18-20","20-25","25-30","30-35"], "paddingInner": 0.2, "paddingOuter": 0.1}, "axis": {"title": null, "labels": false, "tickBand": "extent", "tickSize": -4, "tickColor": "#000", "domain": false}},
   "yOffset": {"field": "k", "type": "nominal", "scale": {"domain": [1,2,3,4]}}
  }},
 {"width": 136, "height": 396, "data": {"name": "gs"}, "transform": [{"filter": "datum.s=='D'"}],
  "mark": {"type": "line", "color": "#000", "strokeWidth": 3},
  "encoding": {
   "x": {"field": "v", "type": "quantitative", "scale": {"domain": [0,90], "nice": false}, "axis": {"orient": "top", "values": [0,30,60,90], "title": null, "grid": true, "gridColor": "#444", "ticks": false, "domain": false, "labelFontSize": 14, "labelColor": "#333", "labelPadding": 5}},
   "y": {"field": "d", "type": "nominal", "scale": {"domain": ["0-2","2-4","4-6","6-8","8-10","10-12","12-14","14-16","16-18","18-20","20-25","25-30","30-35","35-40"], "paddingInner": 0.2, "paddingOuter": 0.1}, "axis": null},
   "strokeDash": {"field": "t", "type": "nominal", "scale": {"domain": ["s","d"], "range": [[1,0],[10,6]]}, "legend": null},
   "order": {"value": null}
  }}
 ], "spacing": 0, "bounds": "flush", "resolve": {"scale": {"yOffset": "independent"}}},
{"hconcat": [
 {"width": 91, "height": 396, "data": {"name": "loi"}, "transform": [{"filter": "datum.s=='E'"}],
  "mark": {"type": "bar", "fill": "#8DC641", "stroke": "#000", "strokeWidth": 1},
  "encoding": {
   "x": {"field": "v", "type": "quantitative", "scale": {"domain": [0,20], "nice": false}, "axis": {"values": [0,10,20], "title": "(%)", "titleX": 196, "titleY": 20, "titleAlign": "center", "titleBaseline": "middle", "titleFont": "DejaVu Sans", "titleFontSize": 18, "titleFontWeight": "normal", "titleColor": "#333", "grid": true, "gridColor": "#333", "ticks": false, "domain": false, "labelFontSize": 19, "labelColor": "#222", "labelPadding": 11}},
   "y": {"field": "d", "type": "nominal", "scale": {"domain": ["0-2","2-4","4-6","6-8","8-10","10-12","12-14","14-16","16-18","18-20","20-25","25-30","30-35","35-40"], "paddingInner": 0.26, "paddingOuter": 0.1}, "axis": {"title": null, "labels": false, "tickBand": "extent", "tickSize": -4, "tickColor": "#000", "domain": false}},
   "yOffset": {"field": "k", "type": "nominal", "scale": {"domain": [1,2,3]}}
  }},
 {"width": 136, "height": 396, "data": {"name": "gs"}, "transform": [{"filter": "datum.s=='E'"}],
  "mark": {"type": "line", "color": "#000", "strokeWidth": 3},
  "encoding": {
   "x": {"field": "v", "type": "quantitative", "scale": {"domain": [0,90], "nice": false}, "axis": {"orient": "top", "values": [0,30,60,90], "title": "(μm)", "titleX": 106, "titleY": -30, "titleAlign": "center", "titleBaseline": "middle", "titleFont": "DejaVu Sans", "titleFontSize": 17, "titleFontWeight": "normal", "titleColor": "#333", "grid": true, "gridColor": "#444", "ticks": false, "domain": false, "labelFontSize": 14, "labelColor": "#333", "labelPadding": 5}},
   "y": {"field": "d", "type": "nominal", "scale": {"domain": ["0-2","2-4","4-6","6-8","8-10","10-12","12-14","14-16","16-18","18-20","20-25","25-30","30-35","35-40"], "paddingInner": 0.2, "paddingOuter": 0.1}, "axis": null},
   "strokeDash": {"field": "t", "type": "nominal", "scale": {"domain": ["s","d"], "range": [[1,0],[10,6]]}, "legend": null},
   "order": {"value": null}
  }}
 ], "spacing": 0, "bounds": "flush", "resolve": {"scale": {"yOffset": "independent"}}}
],
"spacing": 15,
"title": {"text": "(2)  深度別強熱減量（棒グラフ）及び粒径平均値（折れ線）", "orient": "bottom", "anchor": "start", "font": "Noto Sans CJK JP", "fontSize": 30, "fontWeight": "normal", "color": "#222", "offset": 13, "dx": 226},
"resolve": {"scale": {"yOffset": "independent"}}
}
],
"spacing": -12,
"center": true,
"resolve": {"scale": {"color": "independent", "yOffset": "independent"}, "legend": {"color": "independent"}}
}
